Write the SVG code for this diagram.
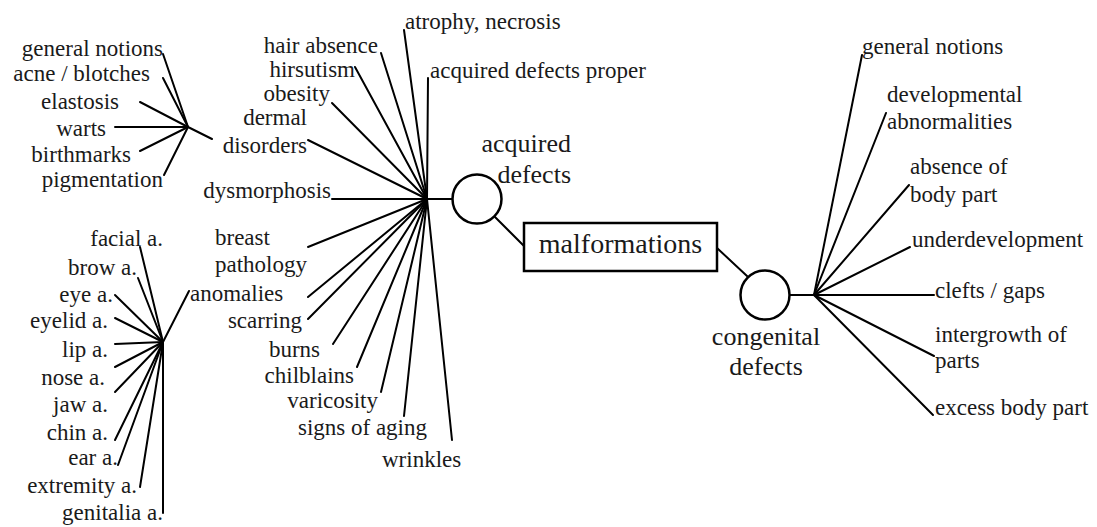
<svg xmlns="http://www.w3.org/2000/svg" width="1097" height="527" viewBox="0 0 1097 527" font-family="'Liberation Serif', 'Times New Roman', 'DejaVu Serif', serif">
<style>
text{font-family:'Liberation Serif','Times New Roman','DejaVu Serif',serif;font-size:23px;fill:#1a1a1a}
.e{text-anchor:end}
.m{text-anchor:middle}
.big{font-size:26px}
.mal{font-size:28px}
.c line{stroke:#000;stroke-width:2;stroke-linecap:round}
.n{fill:#fff;stroke:#000;stroke-width:2.5}
</style>
<rect width="1097" height="527" fill="#fff"/>
<g class="c" id="connectors">
<line x1="188" y1="127" x2="163" y2="54"/>
<line x1="188" y1="127" x2="163" y2="78"/>
<line x1="188" y1="127" x2="140" y2="102"/>
<line x1="188" y1="127" x2="115" y2="127"/>
<line x1="188" y1="127" x2="140" y2="151"/>
<line x1="188" y1="127" x2="164" y2="175"/>
<line x1="188" y1="127" x2="212" y2="139"/>
<line x1="163" y1="342" x2="140" y2="247"/>
<line x1="163" y1="342" x2="138" y2="278"/>
<line x1="163" y1="342" x2="115" y2="295"/>
<line x1="163" y1="342" x2="115" y2="318"/>
<line x1="163" y1="342" x2="115" y2="344"/>
<line x1="163" y1="342" x2="115" y2="367"/>
<line x1="163" y1="342" x2="115" y2="392"/>
<line x1="163" y1="342" x2="115" y2="440"/>
<line x1="163" y1="342" x2="118" y2="465"/>
<line x1="163" y1="342" x2="140" y2="487"/>
<line x1="163" y1="342" x2="163" y2="513"/>
<line x1="163" y1="342" x2="189" y2="291"/>
<line x1="427" y1="199" x2="404" y2="30"/>
<line x1="427" y1="199" x2="381" y2="53"/>
<line x1="427" y1="199" x2="355" y2="67"/>
<line x1="427" y1="199" x2="332" y2="103"/>
<line x1="427" y1="199" x2="308" y2="140"/>
<line x1="427" y1="199" x2="332" y2="199"/>
<line x1="427" y1="199" x2="428" y2="78"/>
<line x1="427" y1="199" x2="308" y2="247"/>
<line x1="427" y1="199" x2="308" y2="297"/>
<line x1="427" y1="199" x2="308" y2="319"/>
<line x1="427" y1="199" x2="333" y2="344"/>
<line x1="427" y1="199" x2="357" y2="367"/>
<line x1="427" y1="199" x2="381" y2="392"/>
<line x1="427" y1="199" x2="404" y2="416"/>
<line x1="427" y1="199" x2="452" y2="440"/>
<line x1="427" y1="199" x2="452" y2="199"/>
<line x1="495" y1="217" x2="524" y2="246"/>
<line x1="717" y1="248" x2="747" y2="276"/>
<line x1="789" y1="295" x2="814" y2="295"/>
<line x1="814" y1="295" x2="862" y2="55"/>
<line x1="814" y1="295" x2="886" y2="113"/>
<line x1="814" y1="295" x2="909" y2="185"/>
<line x1="814" y1="295" x2="910" y2="247"/>
<line x1="814" y1="295" x2="934" y2="295"/>
<line x1="814" y1="295" x2="934" y2="356"/>
<line x1="814" y1="295" x2="933" y2="415"/>
</g>
<g id="malformations">
<rect x="524" y="223" width="193" height="48" fill="#fff" stroke="#000" stroke-width="2.5"/>
<text class="m mal" x="620.5" y="253">malformations</text>
</g>
<g id="acquired-defects">
<circle class="n" cx="477" cy="199" r="24.5"/>
<text class="e big" x="571" y="152">acquired</text>
<text class="e big" x="571" y="183">defects</text>
</g>
<g id="congenital-defects">
<circle class="n" cx="765" cy="295" r="24.5"/>
<text class="m big" x="766" y="345">congenital</text>
<text class="m big" x="766" y="375">defects</text>
</g>
<g id="skin-general-notions"><text class="e" x="163" y="56">general notions</text></g>
<g id="acne-blotches"><text class="e" x="150" y="81">acne / blotches</text></g>
<g id="elastosis"><text class="e" x="119" y="109">elastosis</text></g>
<g id="warts"><text class="e" x="106" y="136">warts</text></g>
<g id="birthmarks"><text class="e" x="131" y="162">birthmarks</text></g>
<g id="pigmentation"><text class="e" x="163" y="187">pigmentation</text></g>
<g id="atrophy-necrosis"><text x="405" y="29">atrophy, necrosis</text></g>
<g id="hair-absence"><text class="e" x="378" y="53">hair absence</text></g>
<g id="hirsutism"><text class="e" x="355" y="77">hirsutism</text></g>
<g id="acquired-proper"><text x="430" y="78">acquired defects proper</text></g>
<g id="obesity"><text class="e" x="330" y="101">obesity</text></g>
<g id="dermal-disorders"><text class="e" x="307" y="125">dermal</text><text class="e" x="307" y="153">disorders</text></g>
<g id="dysmorphosis"><text class="e" x="331" y="198">dysmorphosis</text></g>
<g id="breast-pathology"><text x="215" y="245">breast</text><text x="215" y="272">pathology</text></g>
<g id="anomalies"><text x="190" y="301">anomalies</text></g>
<g id="scarring"><text class="e" x="302" y="328">scarring</text></g>
<g id="burns"><text class="e" x="320" y="357">burns</text></g>
<g id="chilblains"><text class="e" x="354" y="383">chilblains</text></g>
<g id="varicosity"><text class="e" x="378" y="408">varicosity</text></g>
<g id="signs-of-aging"><text class="e" x="427" y="435">signs of aging</text></g>
<g id="wrinkles"><text x="382" y="467">wrinkles</text></g>
<g id="facial"><text class="e" x="163" y="246">facial a.</text></g>
<g id="brow"><text class="e" x="137" y="275">brow a.</text></g>
<g id="eye"><text class="e" x="113" y="302">eye a.</text></g>
<g id="eyelid"><text class="e" x="108" y="328">eyelid a.</text></g>
<g id="lip"><text class="e" x="108" y="357">lip a.</text></g>
<g id="nose"><text class="e" x="105" y="385">nose a.</text></g>
<g id="jaw"><text class="e" x="108" y="412">jaw a.</text></g>
<g id="chin"><text class="e" x="108" y="440">chin a.</text></g>
<g id="ear"><text class="e" x="118" y="465">ear a.</text></g>
<g id="extremity"><text class="e" x="137" y="493">extremity a.</text></g>
<g id="genitalia"><text class="e" x="163" y="520">genitalia a.</text></g>
<g id="cong-general-notions"><text x="862" y="54">general notions</text></g>
<g id="developmental"><text x="887" y="102">developmental</text><text x="887" y="129">abnormalities</text></g>
<g id="absence"><text x="910" y="174">absence of</text><text x="910" y="202">body part</text></g>
<g id="underdevelopment"><text x="912" y="247">underdevelopment</text></g>
<g id="clefts"><text x="935" y="298">clefts / gaps</text></g>
<g id="intergrowth"><text x="935" y="342">intergrowth of</text><text x="935" y="368">parts</text></g>
<g id="excess"><text x="935" y="415">excess body part</text></g>
</svg>
